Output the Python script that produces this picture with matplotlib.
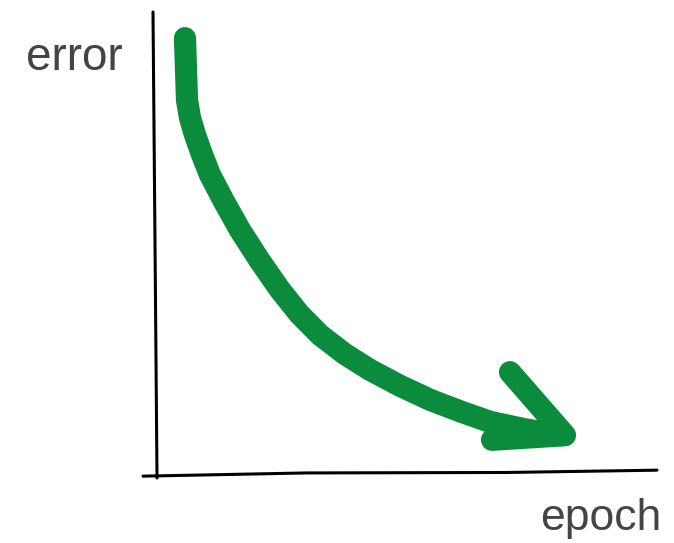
import matplotlib.pyplot as plt

# hand-drawn error curve (arbitrary units)
epoch = [0.56, 0.58, 0.6, 0.66, 0.76, 0.9, 1.06, 1.35, 1.66, 2.05, 2.46, 2.85, 3.26, 3.75, 4.26, 4.85, 5.46, 6.06, 6.66, 7.35, 8.06]
error = [9.43, 8.75, 8.09, 7.7, 7.33, 6.9, 6.46, 5.86, 5.26, 4.6, 3.96, 3.43, 2.98, 2.57, 2.22, 1.88, 1.57, 1.32, 1.09, 0.93, 0.8]

# arrow head strokes: barb start -> tip
head_x = [7.06, 8.16, 6.7]
head_y = [2.17, 0.8, 0.7]

# sketchy axes
yaxis_x = [-0.08, -0.04, 0.0]
yaxis_y = [10.0, 5.0, -0.13]
xaxis_x = [-0.28, 3.0, 7.0, 10.0]
xaxis_y = [-0.09, -0.02, -0.01, 0.04]

green = '#0b8c3c'

fig = plt.figure(figsize=(6.74, 5.43), dpi=100)
ax = fig.add_axes([0, 0, 1, 1])
ax.set_xlim(-3.14, 10.34)
ax.set_ylim(-1.543, 10.26)
ax.axis('off')

ax.plot(yaxis_x, yaxis_y, color='black', lw=2.2, solid_capstyle='round')
ax.plot(xaxis_x, xaxis_y, color='black', lw=2.2, solid_capstyle='round')

ax.plot(epoch, error, color=green, lw=16, solid_capstyle='round', solid_joinstyle='round')
ax.plot(head_x, head_y, color=green, lw=16, solid_capstyle='round', solid_joinstyle='round')

ax.text(-1.65, 9.0, 'error', fontsize=33, color='#444444', family='Liberation Sans',
        ha='center', va='center')
ax.text(8.88, -1.02, 'epoch', fontsize=32, color='#444444', family='Liberation Sans',
        ha='center', va='center')

fig.savefig('out.png', dpi=100)
